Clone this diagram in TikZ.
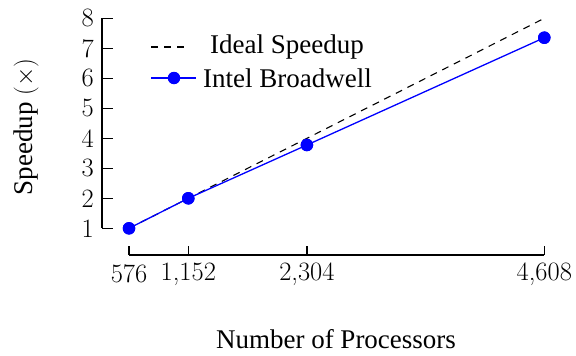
\documentclass[tikz,border=0pt]{standalone}
\usepackage{fontspec}
\setmainfont{Liberation Serif}
\newfontfamily\lmr{Latin Modern Roman}
\begin{document}
\begin{tikzpicture}[x=1pt,y=-1pt,
  axis/.style={line width=1.4pt},
  tick/.style={line width=1.4pt},
  ideal/.style={black,line width=1.1pt,dash pattern=on 7pt off 6pt},
  intel/.style={blue,line width=1.3pt},
  dot/.style={circle,fill=blue,inner sep=0pt,minimum size=12.5pt},
  lbl/.style={font=\fontsize{27}{32}\selectfont},
  tk/.style={font=\lmr\fontsize{26.5}{32}\selectfont}]
\useasboundingbox (0,0) rectangle (576,356);
% axes
\coordinate (ytop) at (102,18.3);
\coordinate (ybot) at (102,228.3);
\draw[axis] (ytop) -- (ybot);
\foreach \v in {1,...,8}{
  \pgfmathsetmacro{\yy}{228.3-(\v-1)*30}
  \coordinate (yt\v) at (102,\yy);
  \coordinate (ye\v) at (112.5,\yy);
  \draw[tick] (yt\v) -- (ye\v);
  \node[tk,anchor=east,inner sep=0pt] (yl\v) at (94,\yy) {\v};
}
\coordinate (xl) at (129,255);
\coordinate (xr) at (544.3,255);
\draw[axis] (xl) -- (xr);
\foreach \n/\xx/\t in {576/129/576,1152/188.3/{1,152},2304/306.9/{2,304},4608/544.3/{4,608}}{
  \coordinate (xb\n) at (\xx,255);
  \coordinate (xt\n) at (\xx,245.5);
  \draw[tick] (xb\n) -- (xt\n);
  \node[tk,inner sep=0pt] (xn\n) at (\xx,274) {\t};
}
% data
\coordinate (i1) at (129,228.3);
\coordinate (i2) at (544.3,18.3);
\draw[ideal] (i1) -- (i2);
\node[dot] (p1) at (129,228.3) {};
\node[dot] (p2) at (188.3,198.3) {};
\node[dot] (p3) at (306.9,145) {};
\node[dot] (p4) at (544.3,37.7) {};
\draw[intel] (p1.center) -- (p2.center) -- (p3.center) -- (p4.center);
\foreach \p in {p1,p2,p3,p4}{\node[dot] at (\p) {};}
% legend
\coordinate (la) at (151,47);
\coordinate (lb) at (190,47);
\draw[ideal] (la) -- (lb);
\node[lbl,anchor=west,inner sep=0pt] (lt1) at (210,47) {Ideal Speedup};
\coordinate (lc) at (151,78);
\coordinate (ld) at (196,78);
\draw[intel] (lc) -- (ld);
\node[dot] (lm) at (174,78) {};
\node[lbl,anchor=west,inner sep=0pt] (lt2) at (203,78) {Intel Broadwell};
% labels
\node[lbl,rotate=90] (ylab) at (26,127) {Speedup $(\times)$};
\node[lbl,anchor=base] (xlab) at (336,348) {Number of Processors};
\end{tikzpicture}
\end{document}
